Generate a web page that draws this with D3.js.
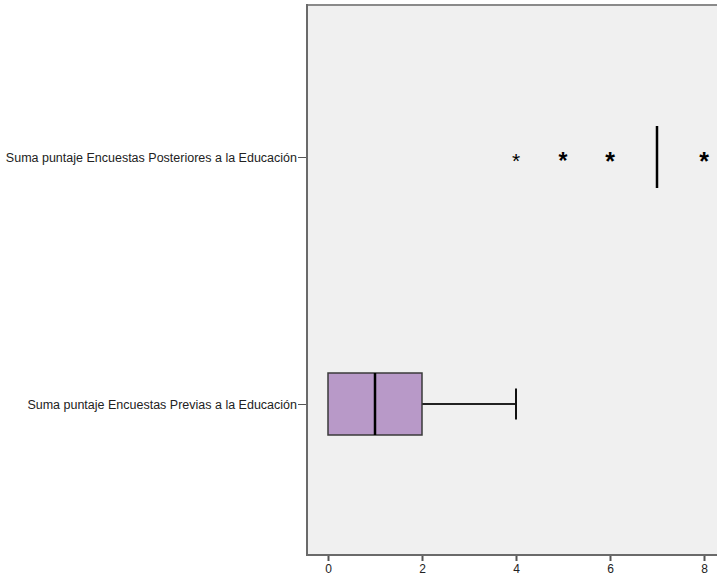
<!DOCTYPE html>
<html><head><meta charset="utf-8">
<script src="https://cdn.jsdelivr.net/npm/d3@7"></script>
<style>body{margin:0;background:#fff}svg{display:block}text{font-family:"Liberation Sans",Arial,sans-serif}</style>
</head><body>
<svg id="c" width="717" height="581"></svg>
<script>
const categories = ["Suma puntaje Encuestas Posteriores a la Educación", "Suma puntaje Encuestas Previas a la Educación"];
// box stats per category
const boxStats = [
  {cat: categories[0], min: 7, q1: 7, median: 7, q3: 7, max: 7},
  {cat: categories[1], min: 0, q1: 0, median: 1, q3: 2, max: 4}
];
const outlierValues = [4, 5, 6, 8];
const outlierCounts = [1, 2, 3, 3];
const xTicks = [0, 2, 4, 6, 8];

const svg = d3.select("#c");
const L = 307, T = 5, B = 555, R = 760;
const x = d3.scaleLinear().domain([0, 8]).range([328, 704]);
const y = d3.scalePoint().domain(categories).range([157, 404]);

svg.append("rect").attr("x", L).attr("y", T).attr("width", R - L).attr("height", B - T)
  .attr("fill", "#f0f0f0");
svg.append("line").attr("x1", L).attr("x2", R).attr("y1", T).attr("y2", T).attr("stroke", "#8a8a8a").attr("stroke-width", 2);
svg.append("line").attr("x1", L).attr("x2", L).attr("y1", T - 1).attr("y2", B + 1).attr("stroke", "#6a6a6a").attr("stroke-width", 2);
svg.append("line").attr("x1", L - 1).attr("x2", R).attr("y1", B).attr("y2", B).attr("stroke", "#6a6a6a").attr("stroke-width", 2);

// x axis
const xa = svg.append("g").attr("transform", `translate(0,${B + 1})`)
  .call(d3.axisBottom(x).tickValues(xTicks).tickSize(5).tickSizeOuter(0).tickPadding(3));
xa.select(".domain").remove();
xa.selectAll(".tick line").attr("stroke", "#555").attr("stroke-width", 2);
xa.selectAll(".tick text").attr("font-size", 12).attr("fill", "#222").attr("font-family", '"Liberation Sans",Arial,sans-serif');

// y axis
const ya = svg.append("g").attr("transform", `translate(${L - 1},0)`)
  .call(d3.axisLeft(y).tickSize(8).tickSizeOuter(0).tickPadding(1));
ya.select(".domain").remove();
ya.selectAll(".tick line").attr("stroke", "#555").attr("stroke-width", 1);
ya.selectAll(".tick text").attr("font-size", 12.5).attr("fill", "#222").attr("font-family", '"Liberation Sans",Arial,sans-serif');

const boxH = 62, capH = 31;
boxStats.forEach(b => {
  const cy = y(b.cat);
  const g = svg.append("g");
  if (b.q3 > b.q1) {
    g.append("line").attr("x1", x(b.q3)).attr("x2", x(b.max)).attr("y1", cy).attr("y2", cy).attr("stroke", "#222").attr("stroke-width", 2);
    g.append("line").attr("x1", x(b.max)).attr("x2", x(b.max)).attr("y1", cy - capH / 2).attr("y2", cy + capH / 2).attr("stroke", "#111").attr("stroke-width", 2);
    g.append("rect").attr("x", x(b.q1)).attr("y", cy - boxH / 2).attr("width", x(b.q3) - x(b.q1)).attr("height", boxH)
      .attr("fill", "#b899c8").attr("stroke", "#3a3a3a").attr("stroke-width", 1.5);
  }
  g.append("line").attr("x1", x(b.median)).attr("x2", x(b.median)).attr("y1", cy - boxH / 2).attr("y2", cy + boxH / 2)
    .attr("stroke", "#000").attr("stroke-width", 2.5);
});

// extremes for the Posteriores row
const cy0 = y(categories[0]);
svg.selectAll("text.out").data(outlierValues).join("text").attr("class", "out")
  .attr("x", d => x(d)).attr("y", (d, i) => cy0 + 10 + outlierCounts[i])
  .attr("text-anchor", "middle")
  .attr("font-size", (d, i) => 19 + outlierCounts[i] * 2)
  .attr("font-weight", (d, i) => outlierCounts[i] > 1 ? "bold" : "normal")
  .attr("fill", "#000")
  .text("*");
</script>
</body></html>
